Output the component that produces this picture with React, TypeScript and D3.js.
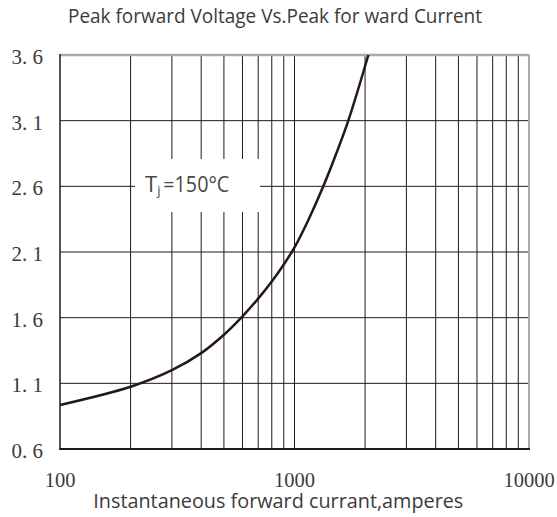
import React from "react";
import * as d3 from "d3";

const currentA = [100, 200, 300, 400, 500, 600, 700, 800, 900, 1000, 1150, 1327, 1500, 1696, 2065];
const voltageV = [0.935, 1.074, 1.2, 1.33, 1.47, 1.61, 1.745, 1.875, 2.005, 2.135, 2.35, 2.6, 2.84, 3.1, 3.6];
const yTicks = [0.6, 1.1, 1.6, 2.1, 2.6, 3.1, 3.6];
const yTickLabels = ["0. 6", "1. 1", "1. 6", "2. 1", "2. 6", "3. 1", "3. 6"];
const xTickLabels = ["100", "1000", "10000"];
const xTickValues = [100, 1000, 10000];
const titleText = "Peak forward Voltage Vs.Peak for ward Current";
const xTitleText = "Instantaneous forward currant,amperes";

export default function App() {
  const W = 557, H = 517;
  const L = 60, R = 529, T = 55, B = 449;
  const x = d3.scaleLog().domain([100, 10000]).range([L, R]);
  const y = d3.scaleLinear().domain([0.6, 3.6]).range([B, T]);
  const vLines = x.ticks().filter((t) => t > 100 && t < 10000);
  const hLines = yTicks.filter((t) => t > 0.6 && t < 3.6);
  const pts: [number, number][] = currentA.map((c, i) => [x(c), y(voltageV[i])]);
  const line = d3.line().curve(d3.curveCatmullRom.alpha(0.5))(pts) || "";
  const ink = "#231815";
  const sans = "'Open Sans', 'Noto Sans', sans-serif";
  const serif = "'Liberation Serif', 'DejaVu Serif', serif";
  return (
    <svg width={W} height={H} style={{ position: "absolute", left: 0, top: 0, background: "#fff" }}>
      <rect x={0} y={0} width={W} height={H} fill="#fff" />
      <text x={275} y={22.7} fontFamily={sans} fontSize={20} fill="#3e3a39" textAnchor="middle" textLength={414} lengthAdjust="spacingAndGlyphs">{titleText}</text>
      {vLines.map((v) => (
        <line key={"v" + v} x1={x(v)} x2={x(v)} y1={T} y2={B} stroke={ink} strokeWidth={1} />
      ))}
      {hLines.map((v) => (
        <line key={"h" + v} x1={L} x2={R} y1={y(v)} y2={y(v)} stroke={ink} strokeWidth={1} />
      ))}
      <rect x={135} y={159} width={125} height={53} fill="#fff" />
      <text x={145} y={191.7} fontFamily={sans} fontSize={22} fill="#4a4645">T</text>
      <text x={157.3} y={195} fontFamily={sans} fontSize={13} fill="#4a4645">j</text>
      <text x={163.3} y={191.7} fontFamily={sans} fontSize={22} fill="#4a4645" textLength={66} lengthAdjust="spacingAndGlyphs">=150°C</text>
      <line x1={L} x2={R} y1={T} y2={T} stroke="#aaaaaa" strokeWidth={2.5} />
      <line x1={R} x2={R} y1={T} y2={B} stroke="#aaaaaa" strokeWidth={2} />
      <line x1={L} x2={L} y1={T - 1} y2={B} stroke={ink} strokeWidth={1.5} />
      <line x1={L - 0.75} x2={R + 1} y1={B} y2={B} stroke={ink} strokeWidth={2} />
      <path d={line} fill="none" stroke={ink} strokeWidth={2.5} />
      {yTicks.map((v, i) => (
        <text key={"yl" + v} x={43} y={y(v) + 9} fontFamily={serif} fontSize={21} fill="#3e3a39" textAnchor="end">{yTickLabels[i]}</text>
      ))}
      {xTickValues.map((v, i) => (
        <text key={"xl" + v} x={x(v)} y={486.5} fontFamily={serif} fontSize={20.5} fill="#3e3a39" textAnchor="middle">{xTickLabels[i]}</text>
      ))}
      <text x={93.3} y={507.5} fontFamily={sans} fontSize={20} fill="#3e3a39" textLength={370} lengthAdjust="spacingAndGlyphs">{xTitleText}</text>
    </svg>
  );
}
